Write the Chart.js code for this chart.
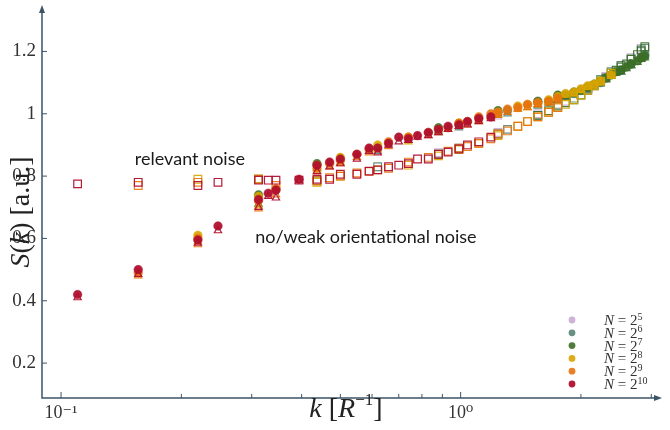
<!DOCTYPE html>
<html>
<head>
<meta charset="utf-8">
<script src="https://cdn.jsdelivr.net/npm/chart.js@4.4.0/dist/chart.umd.min.js"></script>
<style>
  body { margin: 0; background: #fff; }
  #wrap { width: 670px; height: 430px; }
</style>
</head>
<body>
<div id="wrap"><canvas id="myChart"></canvas></div>
<script>
// S(k) for each system size N, three noise cases:
// circ = no noise (filled), tri = weak orientational noise, sq = relevant noise
const k10 = [0.110,0.156,0.220,0.247,0.312,0.330,0.345,0.394,0.437,0.47,0.50,0.55,0.59,0.62,0.66,0.70,0.74,0.78,0.83,0.88,0.93,0.99,1.04,1.11,1.19];
const circ10 = [0.42,0.50,0.595,0.64,0.725,0.745,0.755,0.79,0.835,0.845,0.855,0.87,0.89,0.89,0.905,0.925,0.92,0.93,0.94,0.95,0.96,0.965,0.975,0.985,0.99];
const tri10 = [0.41,0.485,0.585,0.625,0.70,0.735,0.73,0.785,0.815,0.83,0.84,0.855,0.88,0.875,0.9,0.91,0.915,0.925,0.93,0.94,0.95,0.96,0.965,0.975,0.985];
const sq10 = [0.775,0.78,0.77,0.78,0.787,0.787,0.787,0.787,0.79,0.79,0.806,0.806,0.816,0.82,0.83,0.835,0.84,0.855,0.855,0.87,0.877,0.887,0.9,0.91,0.925];

const k9 = [0.156,0.220,0.312,0.345,0.437,0.47,0.50,0.55,0.59,0.66,0.74,0.83,0.93,0.99,1.04,1.11,1.19,1.24,1.31,1.39,1.47,1.56,1.66,1.75];
const circ9 = [0.49,0.60,0.72,0.76,0.825,0.84,0.85,0.87,0.885,0.91,0.925,0.94,0.955,0.97,0.975,0.99,1.0,1.005,1.015,1.02,1.03,1.035,1.04,1.05];
const tri9 = [0.48,0.58,0.695,0.74,0.815,0.83,0.84,0.86,0.875,0.895,0.915,0.93,0.95,0.96,0.965,0.98,0.99,0.995,1.005,1.015,1.02,1.03,1.035,1.045];
const sq9 = [0.77,0.78,0.79,0.77,0.785,0.795,0.80,0.81,0.815,0.825,0.845,0.86,0.88,0.89,0.895,0.905,0.92,0.935,0.945,0.96,0.975,0.99,1.005,1.02];

const k8 = [0.220,0.312,0.437,0.50,0.62,0.74,0.88,0.99,1.11,1.24,1.39,1.47,1.56,1.66,1.75,1.83,1.92,2.0,2.08,2.16,2.24,2.38];
const circ8 = [0.61,0.735,0.835,0.86,0.9,0.925,0.95,0.97,0.985,1.005,1.025,1.03,1.035,1.045,1.055,1.065,1.07,1.08,1.09,1.095,1.105,1.125];
const tri8 = [0.59,0.705,0.82,0.845,0.885,0.91,0.94,0.96,0.975,0.995,1.015,1.02,1.03,1.04,1.05,1.06,1.065,1.075,1.085,1.09,1.1,1.12];
const sq8 = [0.79,0.79,0.78,0.80,0.82,0.835,0.865,0.885,0.905,0.93,0.96,0.975,0.99,1.005,1.02,1.03,1.045,1.06,1.075,1.09,1.105,1.13];

const k7 = [0.312,0.437,0.88,1.24,1.56,1.66,1.75,1.83,1.92,2.0,2.08,2.16,2.24,2.31,2.38,2.45,2.52,2.6,2.67,2.77,2.83,2.89];
const circ7 = [0.74,0.84,0.955,1.01,1.04,1.04,1.06,1.06,1.07,1.075,1.085,1.095,1.105,1.115,1.125,1.135,1.14,1.15,1.16,1.17,1.18,1.185];
const tri7 = [0.71,0.825,0.945,1.0,1.03,1.035,1.05,1.055,1.065,1.07,1.08,1.09,1.1,1.11,1.12,1.13,1.135,1.145,1.155,1.165,1.175,1.18];
const sq7 = [0.79,0.785,0.87,0.935,0.995,1.01,1.025,1.035,1.045,1.06,1.075,1.09,1.105,1.115,1.13,1.14,1.15,1.16,1.175,1.19,1.205,1.215];

const k6 = [0.62,0.99,1.31,1.56,1.75,1.92,2.08,2.24,2.38,2.52,2.67,2.83,2.89];
const circ6 = [0.89,0.965,1.01,1.035,1.055,1.065,1.085,1.1,1.125,1.14,1.16,1.18,1.19];
const tri6 = [0.88,0.955,1.0,1.025,1.045,1.06,1.08,1.095,1.12,1.135,1.155,1.175,1.185];
const sq6 = [0.83,0.89,0.95,0.995,1.03,1.05,1.08,1.11,1.135,1.155,1.175,1.2,1.21];

const k5 = [0.88,1.24,1.56,1.83,2.08,2.31,2.52,2.67,2.83];
const circ5 = [0.955,1.0,1.04,1.06,1.085,1.115,1.14,1.16,1.18];
const tri5 = [0.94,0.99,1.03,1.055,1.08,1.11,1.135,1.155,1.175];
const sq5 = [0.875,0.94,1.0,1.04,1.08,1.12,1.155,1.18,1.21];

const sizeLabels = ['5','6','7','8','9','10'];
const sizeColors = ['rgba(196,167,208,0.85)','rgba(78,125,110,0.85)','rgba(59,110,38,0.9)','rgba(217,164,0,0.9)','rgba(232,114,14,0.9)','rgba(176,16,46,0.95)'];
const xTicks = [0.1,0.2,0.3,0.4,0.5,0.6,0.7,0.8,0.9,1,2,3];
const yTicks = [0.2,0.4,0.6,0.8,1,1.2];

const groups = [
  [k5, circ5, tri5, sq5],
  [k6, circ6, tri6, sq6],
  [k7, circ7, tri7, sq7],
  [k8, circ8, tri8, sq8],
  [k9, circ9, tri9, sq9],
  [k10, circ10, tri10, sq10]
];

const axisColor = '#3d5467';
const serif = '"Liberation Serif", "DejaVu Serif", serif';

function pts(k, s) { return k.map((x, i) => ({x: x, y: s[i]})); }

// chart.js draws dataset 0 on top, so largest N goes first
let datasets = [];
for (let g = groups.length - 1; g >= 0; g--) {
  const [k, c, t, s] = groups[g];
  const col = sizeColors[g];
  datasets.push({label: 'circ' + g, data: pts(k, c), pointStyle: 'circle', pointRadius: 4.3,
    backgroundColor: col, borderColor: col, borderWidth: 0.5});
  datasets.push({label: 'tri' + g, data: pts(k, t), pointStyle: 'triangle', pointRadius: 4.2,
    backgroundColor: 'rgba(0,0,0,0)', borderColor: col, borderWidth: 1.2});
  datasets.push({label: 'sq' + g, data: pts(k, s), pointStyle: 'rect', pointRadius: 5.4,
    backgroundColor: 'rgba(0,0,0,0)', borderColor: col, borderWidth: 1.2});
}

function line(ctx, x1, y1, x2, y2) {
  ctx.beginPath(); ctx.moveTo(x1, y1); ctx.lineTo(x2, y2); ctx.stroke();
}

// draws a list of [text, font, dy] pieces starting at x
function pieces(ctx, parts, x, y) {
  parts.forEach(p => {
    ctx.font = p[1];
    ctx.fillText(p[0], x, y + (p[2] || 0));
    x += ctx.measureText(p[0]).width;
  });
}
function piecesWidth(ctx, parts) {
  let w = 0;
  parts.forEach(p => { ctx.font = p[1]; w += ctx.measureText(p[0]).width; });
  return w;
}

const decor = {
  id: 'decor',
  afterDraw(chart) {
    const ctx = chart.ctx, a = chart.chartArea;
    const xs = chart.scales.x, ys = chart.scales.y;
    ctx.save();
    ctx.strokeStyle = axisColor; ctx.fillStyle = axisColor;
    ctx.lineWidth = 1.5;
    ctx.beginPath();
    ctx.moveTo(a.left, a.top); ctx.lineTo(a.left, a.bottom); ctx.lineTo(a.right, a.bottom);
    ctx.stroke();
    // arrow heads
    ctx.beginPath();
    ctx.moveTo(a.left, a.top - 5); ctx.lineTo(a.left - 3, a.top + 3); ctx.lineTo(a.left + 3, a.top + 3);
    ctx.closePath(); ctx.fill();
    ctx.beginPath();
    ctx.moveTo(a.right + 5, a.bottom); ctx.lineTo(a.right - 3, a.bottom - 3); ctx.lineTo(a.right - 3, a.bottom + 3);
    ctx.closePath(); ctx.fill();
    // inward ticks
    ctx.lineWidth = 1;
    xs.ticks.forEach(t => {
      const px = xs.getPixelForValue(t.value);
      const len = (t.value === 0.1 || t.value === 1) ? 6 : 4;
      line(ctx, px, a.bottom, px, a.bottom - len);
    });
    ys.ticks.forEach(t => {
      const py = ys.getPixelForValue(t.value);
      line(ctx, a.left, py, a.left + 5, py);
    });

    // axis titles
    ctx.fillStyle = '#222';
    ctx.textBaseline = 'middle';
    ctx.textAlign = 'left';
    const fs = 28;
    const xt = [['k', 'italic ' + fs + 'px ' + serif], [' [', fs + 'px ' + serif],
      ['R', 'italic ' + fs + 'px ' + serif], ['\u22121', Math.round(fs * 0.6) + 'px ' + serif, -9],
      [']', fs + 'px ' + serif]];
    pieces(ctx, xt, 346 - piecesWidth(ctx, xt) / 2, 410);

    const yt = [['S', 'italic ' + fs + 'px ' + serif], ['(', fs + 'px ' + serif],
      ['k', 'italic ' + fs + 'px ' + serif], [') [a.u.]', fs + 'px ' + serif]];
    ctx.save();
    ctx.translate(22, 212);
    ctx.rotate(-Math.PI / 2);
    pieces(ctx, yt, -piecesWidth(ctx, yt) / 2, 0);
    ctx.restore();

    // annotations, sized so the long one spans about 229px
    const longText = 'no/weak orientational noise';
    ctx.font = '17px Lato, "Open Sans", sans-serif';
    const afs = Math.min(18, 17 * 229 / ctx.measureText(longText).width);
    ctx.font = afs.toFixed(1) + 'px Lato, "Open Sans", sans-serif';
    ctx.fillStyle = '#1a1a1a';
    ctx.fillText('relevant noise', xs.getPixelForValue(0.153), ys.getPixelForValue(0.855));
    ctx.fillText(longText, xs.getPixelForValue(0.306), ys.getPixelForValue(0.604));

    // legend
    for (let i = 0; i < sizeLabels.length; i++) {
      const y = 320 + i * 12.8;
      ctx.fillStyle = sizeColors[i];
      ctx.beginPath(); ctx.arc(572, y, 3.4, 0, Math.PI * 2); ctx.fill();
      ctx.fillStyle = '#333';
      pieces(ctx, [['N', 'italic 15px ' + serif], [' = 2', '15px ' + serif],
        [sizeLabels[i], '10px ' + serif, -4]], 604, y + 1);
    }
    ctx.restore();
  }
};

const ctx = document.getElementById('myChart').getContext('2d');
const myChart = new Chart(ctx, {
  type: 'scatter',
  data: { datasets: datasets },
  options: {
    responsive: true,
    maintainAspectRatio: false,
    animation: false,
    layout: { padding: { top: 10, right: 13, left: 0, bottom: 0 } },
    plugins: { legend: { display: false }, tooltip: { enabled: false } },
    scales: {
      x: {
        type: 'logarithmic', min: 0.0896, max: 3.1,
        grid: { display: false, drawTicks: false },
        border: { display: false },
        afterFit(scale) { scale.height = 32; scale.paddingLeft = 0; scale.paddingRight = 0; },
        afterBuildTicks(scale) { scale.ticks = xTicks.map(v => ({value: v})); },
        ticks: {
          autoSkip: false, maxRotation: 0, padding: 4, color: '#333',
          font: { family: serif, size: 18 },
          callback: v => v === 0.1 ? '10\u207B\u00B9' : (v === 1 ? '10\u2070' : '')
        }
      },
      y: {
        min: 0.088, max: 1.333,
        grid: { display: false, drawTicks: false },
        border: { display: false },
        afterFit(scale) { scale.width = 42; scale.paddingTop = 0; scale.paddingBottom = 0; },
        afterBuildTicks(scale) { scale.ticks = yTicks.map(v => ({value: v})); },
        ticks: {
          padding: 6, color: '#333',
          font: { family: serif, size: 19 },
          callback: v => v === 1 ? '1' : v.toFixed(1)
        }
      }
    }
  },
  plugins: [decor]
});
</script>
</body>
</html>
